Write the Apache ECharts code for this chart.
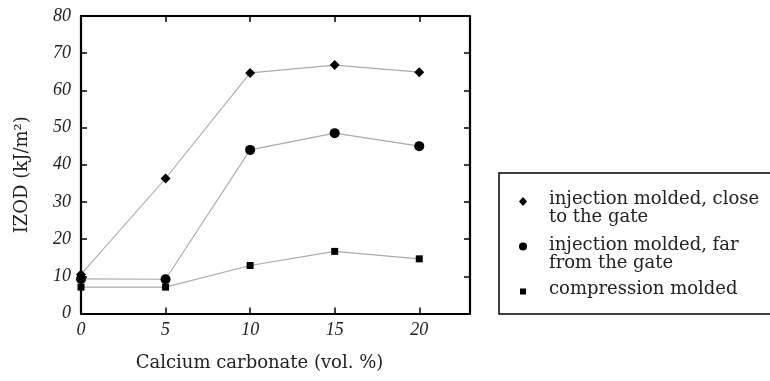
<!DOCTYPE html>
<html><head><meta charset="utf-8">
<script src="https://cdn.jsdelivr.net/npm/echarts@6/dist/echarts.min.js"></script>
<style>html,body{margin:0;padding:0;background:#fff}#c{width:770px;height:381px}</style>
</head><body><div id="c"></div>
<script>
const xValues = [0, 5, 10, 15, 20];
const closeGate = [10.5, 36.3, 64.7, 66.8, 64.9];
const farGate = [9.3, 9.2, 44.0, 48.5, 45.0];
const compression = [7.1, 7.1, 12.9, 16.7, 14.7];
const seriesNames = ['injection molded, close\nto the gate', 'injection molded, far\nfrom the gate', 'compression molded'];
const xTicks = [0, 5, 10, 15, 20];
const yTicks = [0, 10, 20, 30, 40, 50, 60, 70, 80];

const pairs = v => xValues.map((x, i) => [x, v[i]]);
const chart = echarts.init(document.getElementById('c'), null, {renderer: 'canvas'});
const labelFont = {fontFamily: 'Liberation Serif', fontStyle: 'italic', fontSize: 18, color: '#222'};
const nameFont = {fontFamily: 'DejaVu Serif', fontSize: 18, color: '#222'};
const axisBase = () => ({
  type: 'value', splitLine: {show: false},
  axisLine: {show: true, onZero: false, lineStyle: {color: '#000', width: 2.2}},
  axisTick: {show: true, inside: true, length: 6, lineStyle: {color: '#000', width: 1.5}}
});
const lineStyle = {color: '#aaaaaa', width: 1.1};
const mkSeries = (name, data, symbol, size) => ({
  type: 'line', name, data: pairs(data), symbol, symbolSize: size,
  lineStyle, itemStyle: {color: '#000'}, xAxisIndex: 0, yAxisIndex: 0, z: 5
});
const legendFont = '18px "DejaVu Serif"';
chart.setOption({
  animation: false,
  grid: {left: 81, right: 300, top: 16, bottom: 67.5},
  xAxis: [
    Object.assign(axisBase(), {min: 0, max: 23, interval: 5, position: 'bottom',
      name: 'Calcium carbonate (vol. %)', nameLocation: 'middle', nameGap: 41,
      nameTextStyle: Object.assign({}, nameFont, {padding: [0, 32, 0, 0]}),
      axisLabel: Object.assign({}, labelFont, {margin: 8, showMaxLabel: false,
        formatter: v => xTicks.includes(v) ? String(v) : ''})}),
    Object.assign(axisBase(), {min: 0, max: 23, interval: 5, position: 'top', axisLabel: {show: false}})
  ],
  yAxis: [
    Object.assign(axisBase(), {min: 0, max: 80, interval: 10, position: 'left',
      name: 'IZOD (kJ/m²)', nameLocation: 'middle', nameGap: 50,
      nameTextStyle: Object.assign({}, nameFont, {padding: [0, 20, 0, 0]}),
      axisLabel: Object.assign({}, labelFont, {margin: 10,
        formatter: v => yTicks.includes(v) ? String(v) : ''})}),
    Object.assign(axisBase(), {min: 0, max: 80, interval: 10, position: 'right', axisLabel: {show: false}})
  ],
  series: [
    mkSeries(seriesNames[0], closeGate, 'diamond', 10),
    mkSeries(seriesNames[1], farGate, 'circle', 10),
    mkSeries(seriesNames[2], compression, 'rect', 7)
  ],
  graphic: [
    {type: 'rect', shape: {x: 499, y: 173, width: 290, height: 141}, style: {fill: 'none', stroke: '#000', lineWidth: 1.5}},
    {type: 'polygon', shape: {points: [[523, 197], [527, 201.5], [523, 206], [519, 201.5]]}, style: {fill: '#000'}},
    {type: 'circle', shape: {cx: 523, cy: 246.5, r: 4}, style: {fill: '#000'}},
    {type: 'rect', shape: {x: 520, y: 288.5, width: 6, height: 6}, style: {fill: '#000'}},
    {type: 'text', x: 549, y: 190, style: {text: seriesNames[0], font: legendFont, fill: '#222', lineHeight: 18, verticalAlign: 'top'}},
    {type: 'text', x: 549, y: 236, style: {text: seriesNames[1], font: legendFont, fill: '#222', lineHeight: 18, verticalAlign: 'top'}},
    {type: 'text', x: 549, y: 280, style: {text: seriesNames[2], font: legendFont, fill: '#222', lineHeight: 18, verticalAlign: 'top'}}
  ]
});
</script></body></html>
